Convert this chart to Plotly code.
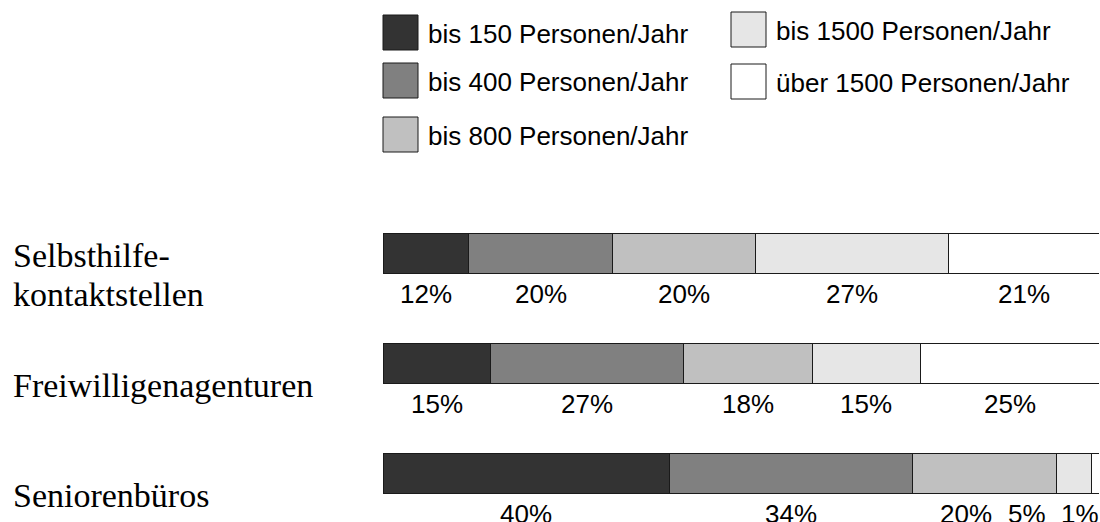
import plotly.graph_objects as go

# ---------------- data ----------------
categories = ["Selbsthilfe-<br>kontaktstellen", "Freiwilligenagenturen", "Seniorenbüros"]
series_names = [
    "bis 150 Personen/Jahr",
    "bis 400 Personen/Jahr",
    "bis 800 Personen/Jahr",
    "bis 1500 Personen/Jahr",
    "über 1500 Personen/Jahr",
]
# percentages per category (rows) for each series
bis150 = [12, 15, 40]
bis400 = [20, 27, 34]
bis800 = [20, 18, 20]
bis1500 = [27, 15, 5]
ueber1500 = [21, 25, 1]
series_values = [bis150, bis400, bis800, bis1500, ueber1500]

# ---------------- style / layout ----------------
colors = ["#333333", "#808080", "#c0c0c0", "#e6e6e6", "#ffffff"]
W, H = 1100, 522
ML, MR, MT, MB = 383, 1, 200, 0
PLOT_W = W - ML - MR
PLOT_H = H - MT - MB
ROW_PX = 110.0
FIRST_ROW_PX = 253.0
BAR_PX = 40.0

SANS = "Liberation Sans, Arial, sans-serif"
SERIF = "Liberation Serif, Times New Roman, serif"
PCT_SIZE = 26
LEG_SIZE = 26
CAT_SIZE = 34
CAT_LINE_PX = 39


def px_x(px):
    return (px - ML) / PLOT_W


def px_y(py):
    return (H - MB - py) / PLOT_H


y_top = (MT - FIRST_ROW_PX) / ROW_PX
y_bot = (H - MB - FIRST_ROW_PX) / ROW_PX
rows = list(range(len(categories)))

fig = go.Figure()
for name, vals, col in zip(series_names, series_values, colors):
    fig.add_trace(go.Bar(
        x=vals, y=rows, orientation="h", name=name,
        marker=dict(color=col, line=dict(color="#1a1a1a", width=1)),
        width=BAR_PX / ROW_PX, showlegend=False, hoverinfo="x+name",
    ))

# ---------------- percentage labels (centered, de-overlapped) ----------------
char_w = {"%": 0.889}


def text_w_units(t):
    px = sum(char_w.get(c, 0.556) for c in t) * PCT_SIZE
    return px * 100.0 / PLOT_W


gap_units = 16 * 100.0 / PLOT_W
annotations = []
for r in rows:
    vals = [s[r] for s in series_values]
    texts = [f"{v}%" for v in vals]
    centers = []
    acc = 0
    for v in vals:
        centers.append(acc + v / 2)
        acc += v
    pos = centers[:]
    for i in range(len(pos) - 1, -1, -1):
        wi = text_w_units(texts[i])
        if i == len(pos) - 1:
            pos[i] = min(pos[i], acc - wi / 2)
        else:
            wn = text_w_units(texts[i + 1])
            pos[i] = min(pos[i], pos[i + 1] - (wi + wn) / 2 - gap_units)
    for t, p in zip(texts, pos):
        annotations.append(dict(
            x=p, y=r, xref="x", yref="y", text=t, showarrow=False,
            xanchor="center", yanchor="middle", yshift=-41,
            font=dict(family=SANS, size=PCT_SIZE, color="#000000"),
        ))

# ---------------- category labels ----------------
for r, c in zip(rows, categories):
    lines = c.split("<br>")
    n = len(lines)
    for k, line in enumerate(lines):
        shift = -22 - (k - (n - 1) / 2) * CAT_LINE_PX
        annotations.append(dict(
            x=px_x(11), y=r, xref="paper", yref="y", text=line, showarrow=False,
            xanchor="left", yanchor="middle", align="left", yshift=shift,
            font=dict(family=SERIF, size=CAT_SIZE, color="#000000"),
        ))

# ---------------- custom legend ----------------
legend_slots = [  # (box left px, box top px)
    (383, 15), (383, 63), (383, 117), (731, 12), (731, 64)
]
BOX = 35
shapes = []
for name, col, (bx, by) in zip(series_names, colors, legend_slots):
    shapes.append(dict(
        type="rect", xref="paper", yref="paper",
        x0=px_x(bx), x1=px_x(bx + BOX), y0=px_y(by + BOX), y1=px_y(by),
        fillcolor=col, line=dict(color="#1a1a1a", width=1),
    ))
    annotations.append(dict(
        x=px_x(bx + BOX + 8), y=px_y(by + BOX / 2 + 1), xref="paper", yref="paper",
        text=name, showarrow=False, xanchor="left", yanchor="middle",
        font=dict(family=SANS, size=LEG_SIZE, color="#000000"),
    ))

fig.update_layout(
    width=W, height=H,
    margin=dict(l=ML, r=MR, t=MT, b=MB),
    barmode="stack",
    plot_bgcolor="#ffffff", paper_bgcolor="#ffffff",
    xaxis=dict(range=[0, 100], visible=False, fixedrange=True),
    yaxis=dict(range=[y_bot, y_top], visible=False, fixedrange=True),
    annotations=annotations, shapes=shapes,
    showlegend=False,
)

fig.write_html(
    "out.html",
    config={"displayModeBar": False},
    post_script="document.body.style.margin='0';document.body.style.overflow='hidden';",
)
